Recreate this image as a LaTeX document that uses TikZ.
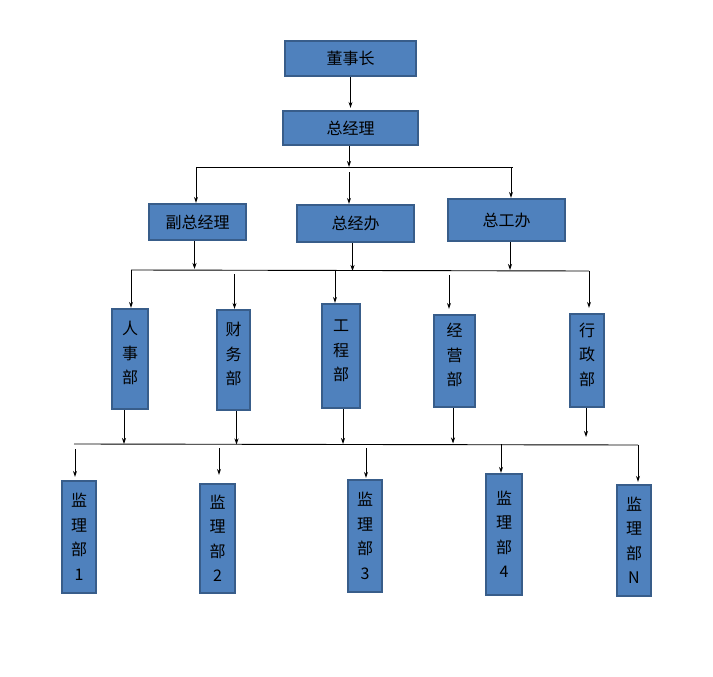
\documentclass[tikz,border=0pt]{standalone}
\usepackage{fontspec}
\newfontfamily\cjkfont{Noto Sans CJK SC}
\usetikzlibrary{arrows.meta}
\definecolor{myboxblue}{RGB}{79,129,189}
\definecolor{myborderblue}{RGB}{56,93,138}

\tikzset{
  box/.style={fill=myboxblue, draw=myborderblue, line width=2.2pt, text=black, inner sep=0pt, align=center, font=\cjkfont\fontsize{16}{24.5}\selectfont},
  uptext/.style={text height=63pt, text depth=14pt},
  arr/.style={-{Stealth[length=6pt, width=4pt]}, line width=0.9pt, black},
  bus/.style={line width=0.9pt, black}
}

\begin{document}
\begin{tikzpicture}[x=1pt, y=-1pt]
\useasboundingbox[fill=white] (0,0) rectangle (713,677);

% --- Top levels ---
\node[box, minimum width=131, minimum height=35] (dsz) at (350.5,58.5) {董事长};
\node[box, minimum width=135, minimum height=34] (zjl) at (350.5,128) {总经理};

% --- Second level ---
\node[box, minimum width=97, minimum height=36] (fzjl) at (197.5,222) {副总经理};
\node[box, minimum width=117, minimum height=37] (zjb) at (355.5,223.5) {总经办};
\node[box, minimum width=117, minimum height=42] (zgb) at (506.5,220) {总工办};

% --- Departments ---
\node[box, uptext, minimum width=36, minimum height=100] (rsb) at (130,359) {人\\事\\部};
\node[box, uptext, minimum width=33, minimum height=100] (cwb) at (233.5,360) {财\\务\\部};
\node[box, uptext, minimum width=38, minimum height=104] (gcb) at (341,356) {工\\程\\部};
\node[box, uptext, minimum width=41, minimum height=92] (jyb) at (454.5,361) {经\\营\\部};
\node[box, uptext, minimum width=34, minimum height=93] (xzb) at (587,360.5) {行\\政\\部};

% --- Supervision units ---
\node[box, minimum width=34, minimum height=112] (jl1) at (79,537) {监\\理\\部\\1};
\node[box, minimum width=35, minimum height=109] (jl2) at (217.5,538.5) {监\\理\\部\\2};
\node[box, minimum width=34, minimum height=112] (jl3) at (365,536) {监\\理\\部\\3};
\node[box, minimum width=36, minimum height=121] (jl4) at (504,534.5) {监\\理\\部\\4};
\node[box, minimum width=34, minimum height=111] (jlN) at (634,540.5) {监\\理\\部\\N};

% --- Bus lines ---
\coordinate (b1l) at (196,167);
\coordinate (b1r) at (513,167);
\coordinate (b2l) at (131,270);
\coordinate (b2r) at (589,271);
\coordinate (b3l) at (74,444);
\coordinate (b3r) at (638,445);
\draw[bus] (b1l) -- (b1r);
\draw[bus] (b2l) -- (b2r);
\draw[bus] (b3l) -- (b3r);

% --- Arrows, top ---
\draw[arr, shorten >=2pt] (dsz) -- (zjl);
\coordinate (b1m) at (349,167);
\draw[arr] (zjl.south -| b1m) -- (b1m);
\coordinate (b1z) at (349,172);
\coordinate (b1g) at (511,167);
\draw[arr] (b1l) -- (b1l |- fzjl.north);
\draw[arr] (b1z) -- (b1z |- zjb.north);
\draw[arr] (b1g) -- (b1g |- zgb.north);

% --- Arrows, second level ---
\coordinate (b2f) at (194.5,269);
\coordinate (b2z) at (352.5,271);
\coordinate (b2g) at (510,270);
\draw[arr] (fzjl.south -| b2f) -- (b2f);
\draw[arr] (zjb.south -| b2z) -- (b2z);
\draw[arr] (zgb.south -| b2g) -- (b2g);

\coordinate (b2c) at (234.5,274);
\coordinate (b2e) at (335,270);
\coordinate (b2y) at (449,275);
\draw[arr] (b2l) -- (b2l |- rsb.north);
\draw[arr] (b2c) -- (b2c |- cwb.north);
\draw[arr] (b2e) -- (b2e |- gcb.north);
\draw[arr, shorten >=5pt] (b2y) -- (b2y |- jyb.north);
\draw[arr, shorten >=5pt] (b2r) -- (b2r |- xzb.north);

% --- Arrows, departments ---
\coordinate (b3a) at (124,444);
\coordinate (b3c) at (236.5,444.5);
\coordinate (b3e) at (343,444);
\coordinate (b3y) at (453,443.5);
\coordinate (b3x) at (586,437);
\draw[arr] (rsb.south -| b3a) -- (b3a);
\draw[arr] (cwb.south -| b3c) -- (b3c);
\draw[arr] (gcb.south -| b3e) -- (b3e);
\draw[arr] (jyb.south -| b3y) -- (b3y);
\draw[arr] (xzb.south -| b3x) -- (b3x);

\coordinate (c1) at (75,449);
\coordinate (c2) at (219,448);
\coordinate (c3) at (366,448);
\coordinate (c4) at (501,444);
\draw[arr, shorten >=3pt] (c1) -- (c1 |- jl1.north);
\draw[arr, shorten >=8pt] (c2) -- (c2 |- jl2.north);
\draw[arr, shorten >=1pt] (c3) -- (c3 |- jl3.north);
\draw[arr] (c4) -- (c4 |- jl4.north);
\draw[arr, shorten >=2pt] (b3r) -- (b3r |- jlN.north);
\end{tikzpicture}
\end{document}
